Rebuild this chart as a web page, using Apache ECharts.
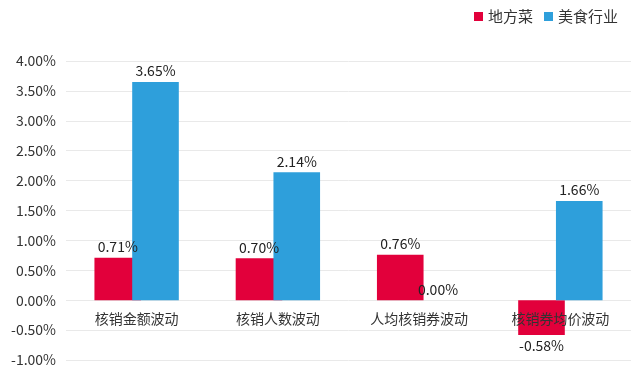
<!DOCTYPE html>
<html><head><meta charset="utf-8">
<script src="https://cdn.jsdelivr.net/npm/echarts@6/dist/echarts.min.js"></script>
<style>html,body{margin:0;padding:0;background:#fff}#c{width:640px;height:373px}</style>
</head><body><div id="c"></div>
<script>
const categories = ['核销金额波动', '核销人数波动', '人均核销券波动', '核销券均价波动'];
const seriesNames = ['地方菜', '美食行业'];
const localDish = [0.71, 0.70, 0.76, -0.58];
const foodIndustry = [3.65, 2.14, 0.00, 1.66];
const colors = ['#E2003B', '#2E9FDB'];
const font = '"Noto Sans CJK SC", "Noto Sans", sans-serif';

function mk(vals) {
  return vals.map(v => v < 0 ? { value: v, label: { position: 'bottom' } } : v);
}
const chart = echarts.init(document.getElementById('c'));
chart.setOption({
  animation: false,
  textStyle: { fontFamily: font },
  legend: {
    right: 22, top: 9, itemWidth: 9, itemHeight: 9, itemGap: 11, padding: [0, 0],
    icon: 'rect',
    textStyle: { fontSize: 15, color: '#333', fontFamily: font },
    data: seriesNames
  },
  grid: { left: 66, right: 9, top: 61, bottom: 13, containLabel: false, outerBoundsMode: 'none' },
  xAxis: {
    type: 'category', data: categories, position: 'bottom', offset: -60, z: 10,
    axisLine: { show: false, onZero: false },
    axisTick: { show: false },
    axisLabel: { fontSize: 14, color: '#333', margin: 12, fontFamily: font }
  },
  yAxis: {
    type: 'value', min: -1, max: 4, interval: 0.5,
    axisLine: { show: false }, axisTick: { show: false },
    splitLine: { lineStyle: { color: '#e9e9e9' } },
    axisLabel: { fontSize: 14, color: '#333', margin: 10, fontFamily: font,
      formatter: v => v.toFixed(2) + '%' }
  },
  series: [
    { name: seriesNames[0], type: 'bar', data: mk(localDish), barWidth: '33%', barGap: '-19%',
      itemStyle: { color: colors[0] },
      label: { show: true, position: 'top', distance: 4, fontSize: 14, color: '#222', fontFamily: font,
        formatter: p => p.value.toFixed(2) + '%' } },
    { name: seriesNames[1], type: 'bar', data: mk(foodIndustry), barWidth: '33%', barGap: '-19%',
      itemStyle: { color: colors[1] },
      label: { show: true, position: 'top', distance: 4, fontSize: 14, color: '#222', fontFamily: font,
        formatter: p => p.value.toFixed(2) + '%' } }
  ]
});
</script></body></html>
